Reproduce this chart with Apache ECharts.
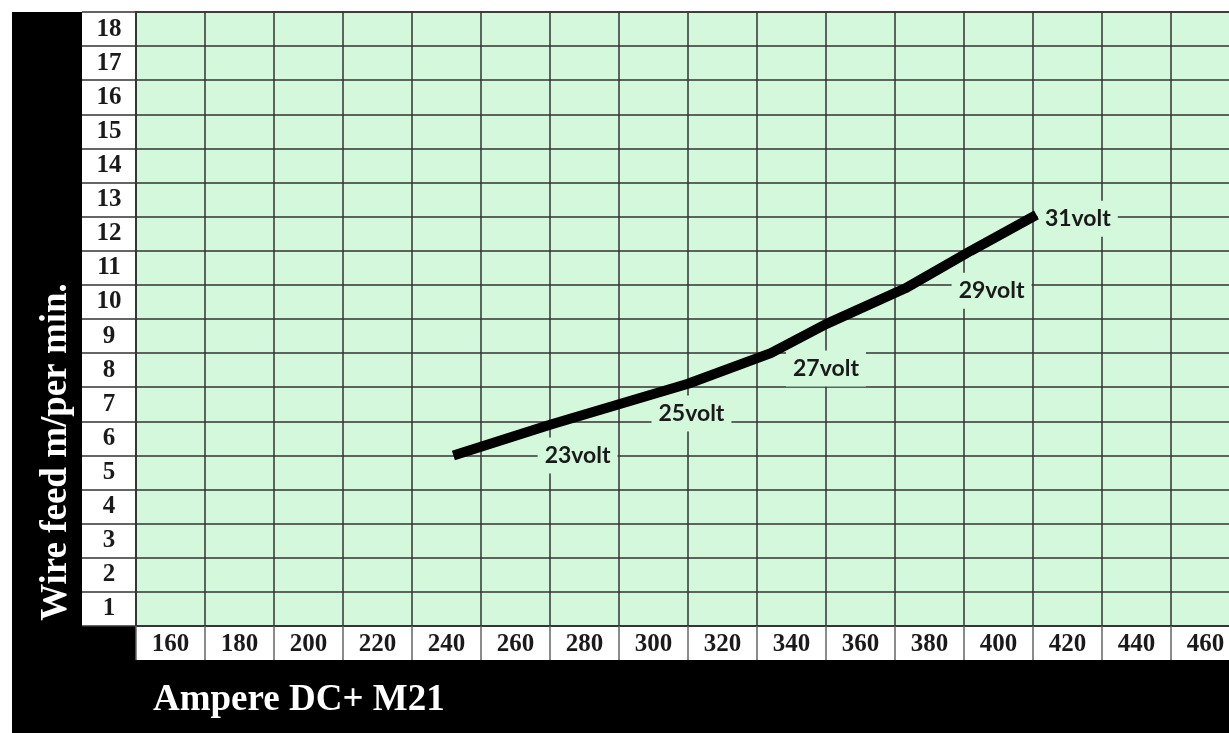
<!DOCTYPE html>
<html>
<head>
<meta charset="utf-8">
<script src="https://cdn.jsdelivr.net/npm/echarts@6/dist/echarts.min.js"></script>
<style>
  html, body { margin: 0; padding: 0; background: #fff; }
  #container { width: 1229px; height: 733px; }
</style>
</head>
<body>
<div id="container"></div>
<script>
// tick labels
var ampLabels = ['160','180','200','220','240','260','280','300','320','340','360','380','400','420','440','460'];
var feedLabels = ['1','2','3','4','5','6','7','8','9','10','11','12','13','14','15','16','17','18'];

// the curve
var ampere = [242, 270, 290, 310, 334, 350, 373, 392, 411];
var wireFeed = [5.5, 6.4, 7.0, 7.6, 8.5, 9.35, 10.4, 11.5, 12.55];

// voltage notes along the curve
var voltNames = ['23volt', '25volt', '27volt', '29volt', '31volt'];
var voltAmpere = [278, 311, 350, 398, 423];
var voltFeed = [5.5, 6.73, 8.05, 10.33, 12.44];

var dom = document.getElementById("container");
var myChart = echarts.init(dom);

var green = '#d4f8dc';
var gridLine = '#333';
var serif = '"Liberation Serif", "DejaVu Serif", serif';

var option = {
    backgroundColor: '#fff',
    animation: false,
    graphic: [
        { type: 'rect', z: -10, shape: { x: 12, y: 12, width: 1230, height: 730 }, style: { fill: '#000' } },
        { type: 'rect', z: -9, shape: { x: 82, y: 12, width: 54, height: 614 }, style: { fill: '#fff' } },
        { type: 'rect', z: -9, shape: { x: 136, y: 626, width: 1110, height: 34 }, style: { fill: '#fff' } },
        {
            type: 'text', z: 10, x: 56, y: 452, rotation: Math.PI / 2,
            style: { text: 'Wire feed m/per min.', fill: '#fff', font: 'bold 37px ' + serif, align: 'center', verticalAlign: 'middle' }
        },
        {
            type: 'text', z: 10, x: 153, y: 700,
            style: { text: 'Ampere DC+ M21', fill: '#fff', font: 'bold 37px ' + serif, align: 'left', verticalAlign: 'middle' }
        }
    ],
    grid: {
        show: true,
        left: 136,
        top: 12,
        right: -11,
        bottom: 107,
        backgroundColor: green,
        borderColor: gridLine,
        borderWidth: 1.5,
        outerBoundsMode: 'none'
    },
    xAxis: [
        {
            type: 'category',
            data: ampLabels,
            boundaryGap: true,
            position: 'bottom',
            axisLine: { show: true, lineStyle: { color: gridLine, width: 1.5 } },
            axisTick: { show: true, interval: 0, length: 34, lineStyle: { color: '#666', width: 1.5 } },
            axisLabel: { interval: 0, margin: 6, color: '#1a1a1a', fontFamily: serif, fontWeight: 'bold', fontSize: 25 },
            splitLine: { show: true, interval: 0, lineStyle: { color: gridLine, width: 1.5 } }
        },
        { type: 'value', min: 150, max: 470, show: false }
    ],
    yAxis: [
        {
            type: 'category',
            data: feedLabels,
            boundaryGap: true,
            axisLine: { show: true, lineStyle: { color: gridLine, width: 1.5 } },
            axisTick: { show: true, interval: 0, length: 54, lineStyle: { color: gridLine, width: 1.5 } },
            axisLabel: { interval: 0, margin: 27, align: 'center', color: '#1a1a1a', fontFamily: serif, fontWeight: 'bold', fontSize: 25 },
            splitLine: { show: true, interval: 0, lineStyle: { color: gridLine, width: 1.5 } }
        },
        { type: 'value', min: 0.5, max: 18.5, show: false }
    ],
    series: [
        {
            name: 'volt',
            type: 'scatter',
            xAxisIndex: 1,
            yAxisIndex: 1,
            silent: true,
            symbolSize: 1,
            itemStyle: { color: 'rgba(0,0,0,0)', opacity: 1 },
            z: 3,
            label: {
                show: true,
                position: 'inside',
                formatter: '{b}',
                color: '#1a1a1a',
                fontFamily: 'Lato',
                fontWeight: 'bold',
                fontSize: 23,
                lineHeight: 26,
                backgroundColor: green,
                padding: [5, 7]
            },
            data: voltNames.map(function (n, i) {
                return { name: n, value: [voltAmpere[i], voltFeed[i]] };
            })
        },
        {
            name: 'Wire feed',
            type: 'line',
            xAxisIndex: 1,
            yAxisIndex: 1,
            silent: true,
            symbol: 'none',
            z: 5,
            lineStyle: { color: '#000', width: 10 },
            data: ampere.map(function (a, i) { return [a, wireFeed[i]]; })
        }
    ]
};

if (option && typeof option === "object") {
    myChart.setOption(option, true);
}
</script>
</body>
</html>
